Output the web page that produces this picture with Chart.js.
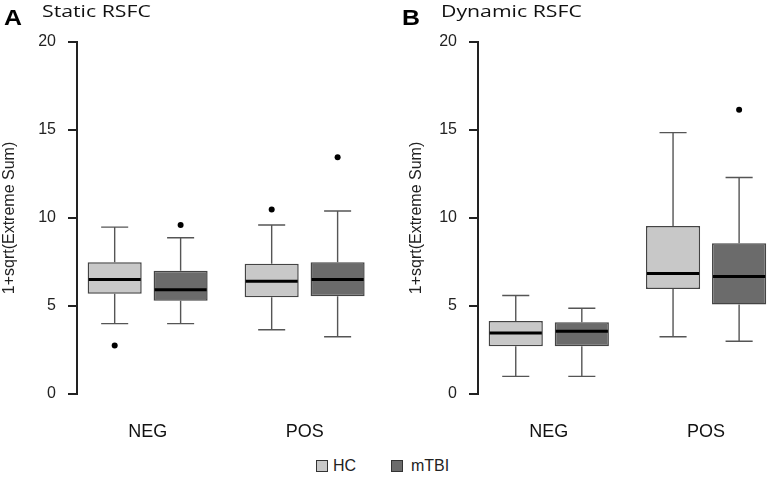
<!DOCTYPE html>
<html>
<head>
<meta charset="utf-8">
<script src="https://cdn.jsdelivr.net/npm/chart.js@4.4.1/dist/chart.umd.min.js"></script>
<style>
  body { margin: 0; background: #fff; font-family: "Liberation Sans", Arial, sans-serif; }
  #wrap { position: relative; width: 771px; height: 477px; overflow: hidden; }
  .panel { position: absolute; top: 0; height: 445px; }
  .letter { position: absolute; top: 5px; font: bold 22px "Liberation Sans", Arial, sans-serif; transform: scaleX(1.13); transform-origin: left top; color: #000; }
  .heading { position: absolute; top: -1px; font: 17px "Open Sans", sans-serif; color: #111; transform: scaleX(1.25); transform-origin: left top; white-space: nowrap; }
  .legend { position: absolute; top: 458px; font: 16px "Liberation Sans", Arial, sans-serif; color: #222; }
  .swatch { position: absolute; top: 2px; width: 10px; height: 10px; border: 1px solid #333; }
</style>
</head>
<body>
<div id="wrap">
  <div class="panel" style="left:0;width:385px;"><canvas id="staticChart"></canvas></div>
  <div class="panel" style="left:400px;width:371px;"><canvas id="dynamicChart"></canvas></div>
  <div class="letter" style="left:4px;">A</div>
  <div class="heading" style="left:42px;">Static RSFC</div>
  <div class="letter" style="left:402px;">B</div>
  <div class="heading" style="left:441px;">Dynamic RSFC</div>
  <div class="legend" style="left:316px;"><span class="swatch" style="left:0;background:#c8c8c8;"></span><span style="position:absolute;left:17px;top:-1px;">HC</span></div>
  <div class="legend" style="left:391px;"><span class="swatch" style="left:0;background:#6b6b6b;"></span><span style="position:absolute;left:20px;top:-1px;">mTBI</span></div>
</div>
<script>
const categories = ["NEG", "POS"];
const groups = ["HC", "mTBI"];
const yTicks = [0, 5, 10, 15, 20];

// five-number summaries per category: [low whisker, Q1, median, Q3, high whisker]
const staticHC = [[4.0, 5.7, 6.5, 7.48, 9.48], [3.65, 5.5, 6.4, 7.4, 9.6]];
const staticMTBI = [[4.0, 5.3, 5.93, 7.0, 8.88], [3.25, 5.55, 6.5, 7.48, 10.4]];
const staticHCOutliers = [[2.75], [10.48]];
const staticMTBIOutliers = [[9.6], [13.45]];

const dynamicHC = [[1.0, 2.72, 3.47, 4.15, 5.6], [3.25, 5.97, 6.85, 9.55, 14.85]];
const dynamicMTBI = [[1.0, 2.72, 3.57, 4.08, 4.87], [3.0, 5.08, 6.67, 8.57, 12.3]];
const dynamicHCOutliers = [[], []];
const dynamicMTBIOutliers = [[], [16.15]];

const fills = { HC: "#c8c8c8", mTBI: "#6b6b6b" };

// whiskers, medians and outlier dots on top of the floating bars
const boxPlotExtras = {
  id: "boxPlotExtras",
  afterDatasetsDraw(chart) {
    const ctx = chart.ctx;
    const y = chart.scales.y;
    chart.data.datasets.forEach((ds, di) => {
      const meta = chart.getDatasetMeta(di);
      meta.data.forEach((bar, i) => {
        const s = ds.stats[i];
        const half = bar.width / 2;
        const cap = bar.width * 0.25;
        ctx.save();
        ctx.strokeStyle = "#555";
        ctx.lineWidth = 1.4;
        ctx.beginPath();
        ctx.moveTo(bar.x, y.getPixelForValue(s[3]));
        ctx.lineTo(bar.x, y.getPixelForValue(s[4]));
        ctx.moveTo(bar.x - cap, y.getPixelForValue(s[4]));
        ctx.lineTo(bar.x + cap, y.getPixelForValue(s[4]));
        ctx.moveTo(bar.x, y.getPixelForValue(s[1]));
        ctx.lineTo(bar.x, y.getPixelForValue(s[0]));
        ctx.moveTo(bar.x - cap, y.getPixelForValue(s[0]));
        ctx.lineTo(bar.x + cap, y.getPixelForValue(s[0]));
        ctx.stroke();

        ctx.strokeStyle = "#000";
        ctx.lineWidth = 3;
        ctx.beginPath();
        ctx.moveTo(bar.x - half + 1, y.getPixelForValue(s[2]));
        ctx.lineTo(bar.x + half - 1, y.getPixelForValue(s[2]));
        ctx.stroke();

        ctx.fillStyle = "#000";
        ds.outliers[i].forEach(v => {
          ctx.beginPath();
          ctx.arc(bar.x, y.getPixelForValue(v), 3, 0, Math.PI * 2);
          ctx.fill();
        });
        ctx.restore();
      });
    });
  }
};

function makeDataset(label, stats, outliers) {
  return {
    label: label,
    data: stats.map((s, i) => ({ x: i + 1, y: [s[1], s[3]] })),
    stats: stats,
    outliers: outliers,
    backgroundColor: fills[label],
    borderColor: "#444",
    borderWidth: 1.5,
    borderSkipped: false,
    barPercentage: 0.82,
    categoryPercentage: 0.84
  };
}

function createBoxChart(id, hc, mtbi, hcOut, mtbiOut, opts) {
  const ctx = document.getElementById(id);
  return new Chart(ctx, {
    type: "bar",
    data: {
      datasets: [
        makeDataset(groups[0], hc, hcOut),
        makeDataset(groups[1], mtbi, mtbiOut)
      ]
    },
    options: {
      responsive: true,
      maintainAspectRatio: false,
      animation: false,
      layout: { padding: { top: 42, right: opts.right, bottom: 0, left: 0 } },
      plugins: {
        legend: { display: false },
        tooltip: { enabled: false }
      },
      scales: {
        x: {
          type: "linear",
          min: 0.55,
          max: opts.xMax,
          offset: false,
          grid: { display: false, drawTicks: false },
          border: { display: false },
          afterBuildTicks: (scale) => {
            scale.ticks = categories.map((c, i) => ({ value: i + 1 }));
          },
          afterFit: (scale) => { scale.height = 51; },
          ticks: {
            padding: 27,
            color: "#111",
            font: { family: "Liberation Sans", size: 18 },
            callback: (value) => categories[value - 1] || ""
          }
        },
        y: {
          min: 0,
          max: 20,
          afterBuildTicks: (scale) => {
            scale.ticks = yTicks.map(v => ({ value: v }));
          },
          afterFit: (scale) => { scale.width = opts.yWidth; },
          grid: { drawOnChartArea: false, tickLength: 9, color: "#222", lineWidth: 2 },
          border: { color: "#222", width: 2 },
          ticks: {
            padding: 12,
            color: "#222",
            font: { family: "Liberation Sans", size: 16 }
          },
          title: {
            display: true,
            text: "1+sqrt(Extreme Sum)",
            color: "#222",
            font: { family: "Liberation Sans", size: 16 },
            padding: { top: opts.titlePad, bottom: 0 }
          }
        }
      }
    },
    plugins: [boxPlotExtras]
  });
}

createBoxChart("staticChart", staticHC, staticMTBI, staticHCOutliers, staticMTBIOutliers,
  { right: 5, xMax: 2.48, yWidth: 77, titlePad: 0 });
createBoxChart("dynamicChart", dynamicHC, dynamicMTBI, dynamicHCOutliers, dynamicMTBIOutliers,
  { right: 2, xMax: 2.40, yWidth: 78, titlePad: 7 });
</script>
</body>
</html>
